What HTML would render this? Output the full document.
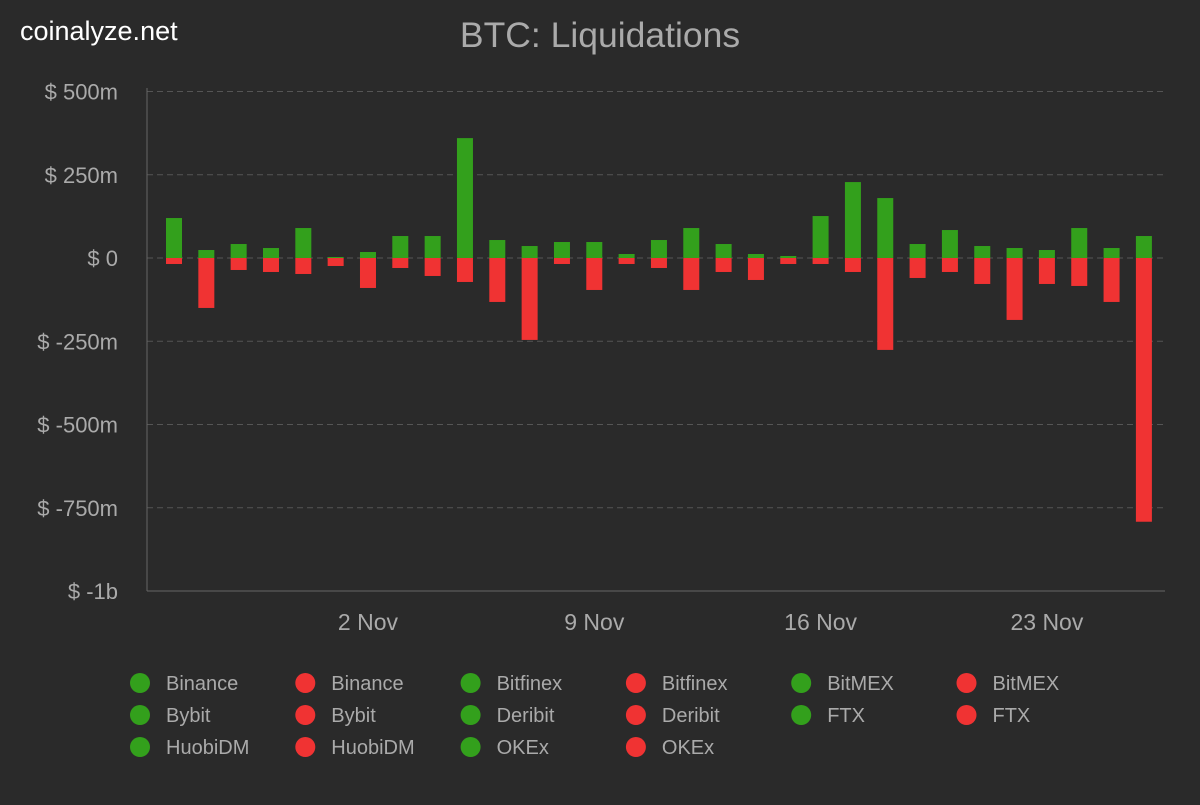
<!DOCTYPE html>
<html><head><meta charset="utf-8"><style>
body{margin:0;background:#2a2a2a;width:1200px;height:800px;overflow:hidden;font-family:"Liberation Sans",sans-serif}
</style></head><body>
<svg id="chart" width="1200" height="800">
<rect width="1200" height="800" fill="#2a2a2a"/>
<text x="20" y="40" fill="#fff" font-size="27">coinalyze.net</text>
<text x="600" y="47" fill="#aaa" font-size="35.5" text-anchor="middle">BTC: Liquidations</text>
<g id="grid"></g><g id="bars"></g><g id="xlabels"></g><g id="legend"></g>
</svg>
<script>
const yTicks=[500,250,0,-250,-500,-750,-1000];
const yTickLabels=["$ 500m","$ 250m","$ 0","$ -250m","$ -500m","$ -750m","$ -1b"];
const longs=[120,24,42,30,90,3,18,66,66,360,54,36,48,48,12,54,90,42,12,6,126,228,180,42,84,36,30,24,90,30,66];
const shorts=[18,150,36,42,48,24,90,30,54,72,132,246,18,96,18,30,96,42,66,18,18,42,276,60,42,78,186,78,84,132,792];
const xTickIdx=[6,13,20,27];
const xTickLabels=["2 Nov","9 Nov","16 Nov","23 Nov"];
const legendNames=["Binance","Bitfinex","BitMEX","Bybit","Deribit","FTX","HuobiDM","OKEx"];
const NS="http://www.w3.org/2000/svg";
const y=v=>258-v*(333/1000);
const x=i=>174+i*32.33;
function mk(t,a,p){const e=document.createElementNS(NS,t);for(const k in a)e.setAttribute(k,a[k]);p.appendChild(e);return e;}
const grid=document.getElementById('grid');
yTicks.forEach((t,i)=>{
 if(t!==-1000){const l=mk('line',{x1:147,x2:1165,y1:y(t),y2:y(t),stroke:'#555','stroke-dasharray':'6,4'},grid);
 }
 const tx=mk('text',{x:118,y:y(t)+8,fill:'#aaa','font-size':22,'text-anchor':'end'},grid);tx.textContent=yTickLabels[i];
 
});
mk('line',{x1:147,x2:147,y1:88,y2:591,stroke:'#666'},grid);
mk('line',{x1:147,x2:1165,y1:591,y2:591,stroke:'#666'},grid);
const bars=document.getElementById('bars');
longs.forEach((v,i)=>{
 const r=mk('rect',{x:x(i)-8,y:y(v),width:16,height:y(0)-y(v),fill:'#33a01c'},bars);
 
});
shorts.forEach((v,i)=>{
 const r=mk('rect',{x:x(i)-8,y:y(0),width:16,height:y(-v)-y(0),fill:'#f03333'},bars);
 
});
const xl=document.getElementById('xlabels');
xTickIdx.forEach((d,i)=>{
 const t=mk('text',{x:x(d),y:630,fill:'#aaa','font-size':23,'text-anchor':'middle'},xl);t.textContent=xTickLabels[i];
 
});
const lg=document.getElementById('legend');
let k=0;
legendNames.forEach(n=>{['#33a01c','#f03333'].forEach(c=>{
 const col=k%6,row=Math.floor(k/6);const cx=140+col*165.3,cy=683+row*32;
 const g=mk('g',{},lg);
 
 mk('circle',{cx:cx,cy:cy,r:10,fill:c},g);
 const t=mk('text',{x:cx+26,y:cy+7,fill:'#aaa','font-size':20},g);t.textContent=n;k++;
});});
</script>
</body></html>
